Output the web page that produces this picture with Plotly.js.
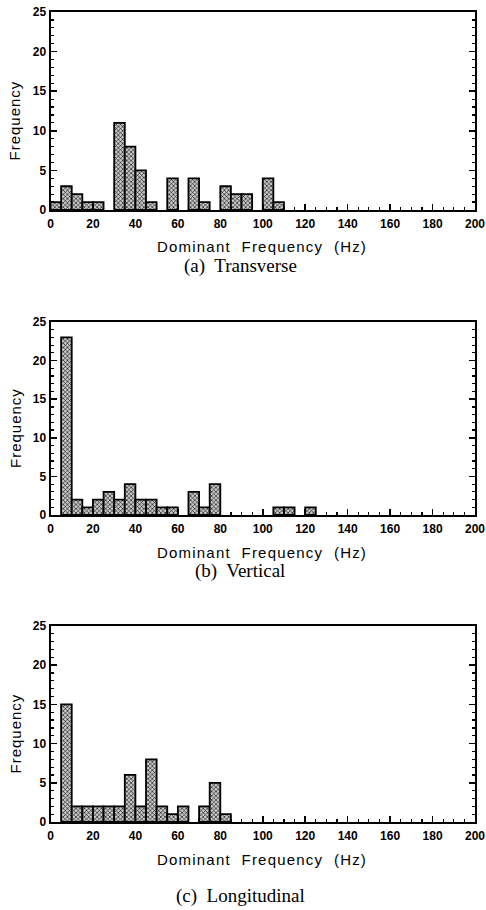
<!DOCTYPE html>
<html><head><meta charset="utf-8">
<script src="https://cdn.plot.ly/plotly-3.0.1.min.js"></script>
<style>html,body{margin:0;padding:0;background:#fff}</style>
</head><body>
<div id="chart" style="width:486px;height:910px"></div>
<script>
// Bin centres (Hz, 5 Hz bins) and counts
const transverseHz    = [2.5, 7.5, 12.5, 17.5, 22.5, 32.5, 37.5, 42.5, 47.5, 57.5, 67.5, 72.5, 82.5, 87.5, 92.5, 102.5, 107.5];
const transverseCount = [1, 3, 2, 1, 1, 11, 8, 5, 1, 4, 4, 1, 3, 2, 2, 4, 1];

const verticalHz    = [7.5, 12.5, 17.5, 22.5, 27.5, 32.5, 37.5, 42.5, 47.5, 52.5, 57.5, 67.5, 72.5, 77.5, 107.5, 112.5, 122.5];
const verticalCount = [23, 2, 1, 2, 3, 2, 4, 2, 2, 1, 1, 3, 1, 4, 1, 1, 1];

const longitudinalHz    = [7.5, 12.5, 17.5, 22.5, 27.5, 32.5, 37.5, 42.5, 47.5, 52.5, 57.5, 62.5, 72.5, 77.5, 82.5];
const longitudinalCount = [15, 2, 2, 2, 2, 2, 6, 2, 8, 2, 1, 2, 2, 5, 1];

const captions = ["(a)  Transverse", "(b)  Vertical", "(c)  Longitudinal"];
const xTitle = "Dominant  Frequency  (Hz)";
const yTitle = "Frequency";
const xTickVals = [0, 20, 40, 60, 80, 100, 120, 140, 160, 180, 200];
const yTickVals = [0, 5, 10, 15, 20, 25];

const W = 486, H = 910;
const xDom = [50.5 / W, 475 / W];
// panel pixel extents (top, bottom)
const panels = [[12, 210], [322, 515], [626, 822]];
const series = [[transverseHz, transverseCount], [verticalHz, verticalCount], [longitudinalHz, longitudinalCount]];

const traces = [];
const layout = {
  width: W, height: H,
  margin: {l: 0, r: 0, t: 0, b: 0},
  paper_bgcolor: '#fff', plot_bgcolor: '#fff',
  showlegend: false,
  bargap: 0,
  annotations: []
};

const tickFont = {family: 'Liberation Sans, Arial, sans-serif', size: 12, color: '#000', weight: 'bold'};
const titleFont = {family: 'Liberation Sans, Arial, sans-serif', size: 15, color: '#000'};
const capFont = {family: 'Liberation Serif, Times New Roman, serif', size: 19, color: '#000'};

series.forEach((s, i) => {
  const n = i === 0 ? '' : String(i + 1);
  const [top, bot] = panels[i];
  traces.push({
    type: 'bar', x: s[0], y: s[1], width: 5,
    xaxis: 'x' + n, yaxis: 'y' + n,
    marker: {
      color: '#a0a0a0',
      line: {color: '#000', width: 1.8},
      pattern: {shape: 'x', fgcolor: '#000', bgcolor: '#c8c8c8', size: 3, solidity: 0.35}
    },
    hoverinfo: 'skip'
  });
  layout['xaxis' + n] = {
    domain: xDom, anchor: 'y' + n, range: [0, 200],
    tickvals: xTickVals, ticks: 'inside', ticklen: 6, tickwidth: 1.5, tickcolor: '#000',
    minor: {dtick: 5, tick0: 0, ticks: 'inside', ticklen: 3, tickwidth: 1.2, tickcolor: '#000', showgrid: false},
    showline: true, linecolor: '#000', linewidth: 2, mirror: true,
    showgrid: false, zeroline: false, tickfont: tickFont, ticklabelstandoff: 2
  };
  layout['yaxis' + n] = {
    domain: [1 - bot / H, 1 - top / H], anchor: 'x' + n, range: [0, 25],
    tickvals: yTickVals, ticks: 'inside', ticklen: 6, tickwidth: 1.5, tickcolor: '#000',
    minor: {dtick: 1, tick0: 0, ticks: 'inside', ticklen: 3, tickwidth: 1.2, tickcolor: '#000', showgrid: false},
    showline: true, linecolor: '#000', linewidth: 2, mirror: 'ticks',
    showgrid: false, zeroline: false, tickfont: tickFont
  };
  layout.annotations.push({
    xref: 'paper', yref: 'paper', x: 262 / W, y: 1 - (bot + 37) / H,
    text: xTitle, showarrow: false, font: titleFont, xanchor: 'center', yanchor: 'middle'
  });
  layout.annotations.push({
    xref: 'paper', yref: 'paper', x: 15 / W, y: 1 - ((top + bot) / 2 + 10) / H,
    text: yTitle, showarrow: false, font: titleFont, textangle: -90, xanchor: 'center', yanchor: 'middle'
  });
  layout.annotations.push({
    xref: 'paper', yref: 'paper', x: 240 / W, y: 1 - (bot + 56 + (i === 2 ? 18 : 0)) / H,
    text: captions[i], showarrow: false, font: capFont, xanchor: 'center', yanchor: 'middle'
  });
});

Plotly.newPlot('chart', traces, layout, {staticPlot: true}).then(() => {
  document.querySelectorAll('.annotation-text').forEach(t => {
    if (t.textContent.indexOf('Dominant') === 0) t.style.letterSpacing = '1.2px';
    if (t.textContent === 'Frequency') t.style.letterSpacing = '1px';
  });
});
</script>
</body></html>
